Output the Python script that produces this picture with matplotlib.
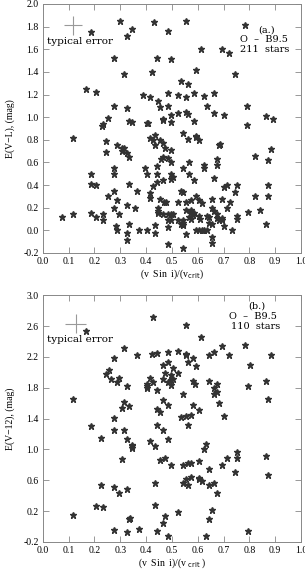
import numpy as np
import matplotlib.pyplot as plt

plt.rcParams['font.family'] = ['Liberation Serif', 'DejaVu Serif']

# panel (a): E(V-L) vs (v sin i)/v_crit, O - B9.5, 211 stars
xa = [0.30, 0.43, 0.555, 0.186, 0.346, 0.325, 0.484, 0.783,
      0.613, 0.693, 0.723, 0.276, 0.444, 0.495, 0.594, 0.425,
      0.315, 0.745, 0.534, 0.564, 0.166, 0.206, 0.387, 0.415,
      0.484, 0.523, 0.555, 0.585, 0.625, 0.665, 0.445, 0.276,
      0.325, 0.454, 0.484, 0.635, 0.792, 0.523, 0.554, 0.564,
      0.665, 0.703, 0.495, 0.254, 0.228, 0.235, 0.335, 0.346,
      0.405, 0.407, 0.465, 0.467, 0.495, 0.586, 0.792, 0.863, 0.893,
      0.116, 0.415, 0.426, 0.436, 0.545, 0.564, 0.592, 0.594, 0.605,
      0.454, 0.465, 0.246, 0.286, 0.306, 0.315, 0.306, 0.325, 0.335,
      0.246, 0.435, 0.475, 0.495, 0.684, 0.686, 0.823, 0.883, 0.874,
      0.457, 0.467, 0.484, 0.495, 0.565, 0.625, 0.625, 0.674, 0.674,
      0.276, 0.276, 0.186, 0.186, 0.206, 0.335, 0.395, 0.405, 0.444,
      0.444, 0.495, 0.506, 0.495, 0.444, 0.465, 0.545, 0.565, 0.585,
      0.663, 0.426, 0.703, 0.712, 0.754, 0.874,
      0.276, 0.365, 0.254, 0.286, 0.276, 0.325, 0.356, 0.186, 0.206,
      0.235, 0.235, 0.295, 0.116, 0.076, 0.285, 0.286, 0.335, 0.325,
      0.325, 0.374, 0.405, 0.435, 0.435, 0.415, 0.415, 0.455, 0.468,
      0.478, 0.525, 0.535, 0.545, 0.555, 0.575, 0.595, 0.605, 0.615,
      0.654, 0.694, 0.724, 0.744, 0.823, 0.874, 0.714, 0.794, 0.843,
      0.863, 0.754, 0.754, 0.734, 0.703, 0.654, 0.663, 0.674, 0.635,
      0.645, 0.674, 0.694, 0.694, 0.684, 0.654, 0.645, 0.605,
      0.575, 0.575, 0.585, 0.555, 0.565, 0.545, 0.525, 0.535, 0.545,
      0.545, 0.555, 0.595, 0.605, 0.615, 0.625, 0.635, 0.654, 0.654,
      0.485, 0.485, 0.545, 0.445, 0.445, 0.445, 0.465, 0.484, 0.495,
      0.506, 0.484, 0.495, 0.575, 0.58, 0.61]
ya = [1.85, 1.84, 1.85, 1.75, 1.78, 1.72, 1.76, 1.81,
      1.60, 1.60, 1.57, 1.52, 1.52, 1.51, 1.42, 1.40,
      1.38, 1.38, 1.32, 1.29, 1.25, 1.22, 1.20, 1.18,
      1.21, 1.20, 1.18, 1.21, 1.19, 1.21, 1.14, 1.10,
      1.08, 1.09, 1.10, 1.10, 1.10, 1.04, 1.05, 1.03,
      1.04, 1.02, 1.02, 0.99, 0.92, 0.94, 0.97, 0.955,
      0.95, 0.952, 0.975, 0.98, 0.955, 0.97, 0.93, 1.01, 0.98,
      0.82, 0.82, 0.80, 0.84, 0.86, 0.81, 0.83, 0.825, 0.80,
      0.80, 0.77, 0.79, 0.75, 0.73, 0.73, 0.70, 0.68, 0.65,
      0.69, 0.75, 0.73, 0.71, 0.755, 0.76, 0.66, 0.72, 0.62,
      0.63, 0.65, 0.64, 0.60, 0.60, 0.58, 0.55, 0.63, 0.58,
      0.55, 0.50, 0.50, 0.41, 0.40, 0.41, 0.55, 0.50, 0.57,
      0.50, 0.50, 0.47, 0.45, 0.43, 0.445, 0.55, 0.50, 0.445,
      0.46, 0.39, 0.38, 0.40, 0.40, 0.40,
      0.348, 0.35, 0.30, 0.265, 0.197, 0.22, 0.195, 0.153, 0.115,
      0.145, 0.093, 0.145, 0.145, 0.115, 0.04, 0.0, 0.057, -0.025,
      -0.084, 0.0, 0.0, 0.05, -0.025, 0.33, 0.285, 0.28, 0.25,
      0.25, 0.25, 0.35, 0.335, 0.25, 0.268, 0.30, 0.268, 0.24,
      0.28, 0.28, 0.25, 0.335, 0.30, 0.30, 0.20, 0.16, 0.18,
      0.06, 0.13, 0.10, 0.0, 0.04, 0.20, 0.17, 0.14, 0.13,
      0.115, 0.11, 0.11, 0.09, 0.09, 0.06, 0.065, 0.13,
      0.18, 0.16, 0.155, 0.18, 0.115, 0.09, 0.09, 0.06, 0.05,
      0.065, -0.03, 0.0, 0.0, 0.0, 0.0, 0.0, -0.055, -0.11,
      0.03, -0.12, -0.16, 0.20, 0.17, 0.15, 0.14, 0.14, 0.14,
      0.14, 0.095, 0.095, 0.10, 0.135, 0.10]

# panel (b): E(V-12) vs (v sin i)/v_crit, O - B9.5, 110 stars
xb = [0.426, 0.554, 0.166, 0.614, 0.693, 0.783, 0.663, 0.644, 0.723, 0.316,
      0.364, 0.425, 0.444, 0.484, 0.525, 0.554, 0.556, 0.276, 0.583, 0.564,
      0.883, 0.465, 0.484, 0.505, 0.595, 0.803, 0.257, 0.245, 0.295, 0.265,
      0.286, 0.474, 0.495, 0.525, 0.465, 0.484, 0.495, 0.505, 0.415, 0.426,
      0.405, 0.405, 0.405, 0.495, 0.325, 0.583, 0.59, 0.644, 0.674, 0.863,
      0.794, 0.663, 0.674, 0.663, 0.444, 0.545, 0.116, 0.465, 0.874, 0.684,
      0.316, 0.306, 0.335, 0.444, 0.484, 0.583, 0.605, 0.454, 0.534, 0.555,
      0.574, 0.276, 0.703, 0.186, 0.444, 0.564,
      0.276, 0.316, 0.465, 0.226, 0.325, 0.415, 0.484, 0.346, 0.346, 0.346,
      0.435, 0.634, 0.623, 0.754,
      0.306, 0.454, 0.475, 0.495, 0.545, 0.564, 0.574, 0.605, 0.644, 0.693,
      0.714, 0.754, 0.863, 0.745, 0.874,
      0.554, 0.574, 0.605, 0.605, 0.615, 0.545, 0.564, 0.644, 0.663, 0.674,
      0.435, 0.226, 0.276, 0.325, 0.295,
      0.206, 0.235, 0.435, 0.116, 0.335, 0.337, 0.475, 0.525, 0.654, 0.644,
      0.465,
      0.276, 0.325, 0.374, 0.444, 0.484, 0.634, 0.794]
yb = [2.72, 2.61, 2.54, 2.46, 2.34, 2.36, 2.26, 2.22, 2.23, 2.31,
      2.23, 2.24, 2.25, 2.26, 2.28, 2.23, 2.235, 2.19, 2.18, 2.14,
      2.22, 2.10, 2.13, 2.06, 2.08, 2.10, 2.03, 1.98, 1.93, 1.91,
      1.88, 1.99, 1.96, 1.99, 1.91, 1.88, 1.90, 1.91, 1.92, 1.88,
      1.85, 1.82, 1.80, 1.83, 1.82, 1.89, 1.85, 1.89, 1.85, 1.89,
      1.82, 1.79, 1.75, 1.72, 1.77, 1.72, 1.65, 1.64, 1.65, 1.60,
      1.62, 1.54, 1.56, 1.53, 1.57, 1.57, 1.51, 1.49, 1.42, 1.43,
      1.45, 1.41, 1.43, 1.30, 1.31, 1.31,
      1.25, 1.25, 1.25, 1.15, 1.14, 1.11, 1.14, 1.06, 1.04, 1.02,
      1.04, 1.07, 1.01, 0.97,
      0.88, 0.86, 0.89, 0.80, 0.80, 0.82, 0.82, 0.85, 0.75, 0.80,
      0.89, 0.89, 0.91, 0.71, 0.67,
      0.62, 0.64, 0.63, 0.61, 0.59, 0.57, 0.54, 0.54, 0.56, 0.43,
      0.56, 0.54, 0.51, 0.49, 0.43,
      0.26, 0.25, 0.28, 0.15, 0.10, 0.11, 0.13, 0.19, 0.21, 0.10,
      0.04,
      -0.05, -0.07, -0.03, -0.06, -0.12, -0.12, -0.06]

fig = plt.figure(figsize=(3.05, 5.71), dpi=100)
ax1 = fig.add_axes([0.140, 0.557, 0.847, 0.436])
ax2 = fig.add_axes([0.140, 0.051, 0.847, 0.432])

star = dict(ls='none', marker='*', ms=5, color='#333333', mec='#333333')
frame = '#888888'
note = dict(family=['DejaVu Serif'], fontsize=7, ha='center', va='center')


def style(ax, ylim, yticks):
    ax.set_xlim(0.0, 1.0)
    ax.set_ylim(*ylim)
    ax.set_xticks(np.arange(0.0, 1.01, 0.1))
    ax.set_yticks(yticks)
    ax.xaxis.set_major_formatter(plt.FormatStrFormatter('%.1f'))
    ax.yaxis.set_major_formatter(plt.FormatStrFormatter('%.1f'))
    ax.tick_params(direction='in', top=True, right=True, length=4,
                   width=0.6, color=frame, labelsize=7, pad=3)
    for s in ax.spines.values():
        s.set_color(frame)
        s.set_linewidth(0.7)


ax1.plot(xa, ya, **star)
style(ax1, (-0.2, 2.0), np.arange(-0.2, 2.01, 0.2))
ax1.errorbar([0.117], [1.81], xerr=[0.036], yerr=[0.086], fmt='none',
             ecolor='#999999', elinewidth=0.8, capsize=0)
ax1.text(0.145, 1.67, 'typical error', **dict(note, fontsize=7.5))
ax1.text(0.868, 1.77, '(a.)', **note)
ax1.text(0.855, 1.685, 'O  \u2013  B9.5', **note)
ax1.text(0.86, 1.60, '211  stars', **note)
ax1.set_xlabel('(v  Sin  i)/(v$_{\\rm crit}$)', fontsize=7, labelpad=1)
ax1.set_ylabel('E(V\u2212L), (mag)', fontsize=7, labelpad=6)

ax2.plot(xb, yb, **star)
style(ax2, (-0.2, 3.0), np.arange(-0.2, 3.01, 0.4))
ax2.errorbar([0.128], [2.63], xerr=[0.04], yerr=[0.125], fmt='none',
             ecolor='#999999', elinewidth=0.8, capsize=0)
ax2.text(0.145, 2.42, 'typical error', **dict(note, fontsize=7.5))
ax2.text(0.828, 2.86, '(b.)', **note)
ax2.text(0.813, 2.73, 'O  \u2013  B9.5', **note)
ax2.text(0.823, 2.60, '110  stars', **note)
ax2.set_xlabel('(v  Sin  i)/(v$_{\\rm\\ crit}$ )', fontsize=7, labelpad=1)
ax2.set_ylabel('E(V\u221212), (mag)', fontsize=7, labelpad=6)

fig.savefig('out.png', dpi=100)
